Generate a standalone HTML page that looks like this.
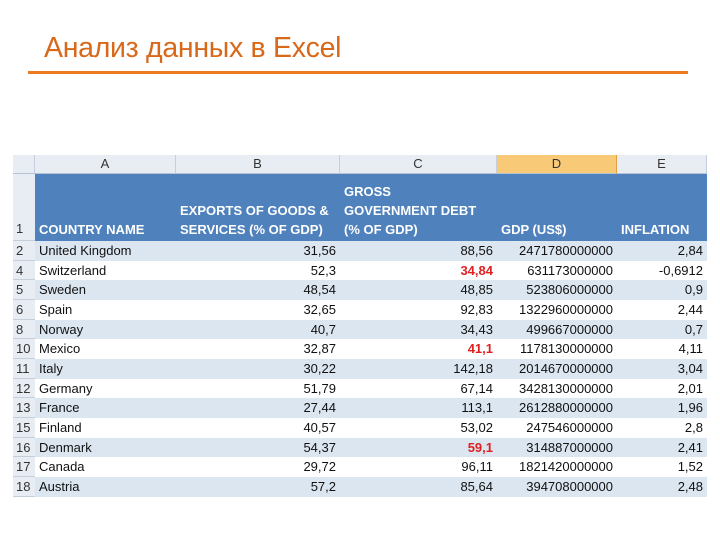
<!DOCTYPE html>
<html><head><meta charset="utf-8">
<style>
body{margin:0;width:720px;height:540px;background:#fff;position:relative;overflow:hidden;font-family:"Liberation Sans","DejaVu Sans",sans-serif}
#title{position:absolute;left:44px;top:32px;font-size:28.5px;color:#d8681a;letter-spacing:-0.3px;white-space:nowrap}
#rule{position:absolute;left:28px;top:71px;width:660px;height:3px;background:#ee7a22}
#sheet{position:absolute;left:0;top:0}
.c{position:absolute;box-sizing:border-box;font-size:13px;color:#111;white-space:nowrap;overflow:hidden}
.colh{background:#e8edf4;border-right:1px solid #c5cfdc;border-bottom:1px solid #b6c3d4;text-align:center;font-size:13px;color:#333;line-height:18px}
.rowh{background:#e8edf4;border-bottom:1px solid #c5cfdc;color:#333;font-size:13px;padding-left:3px}
.hd{background:#4f81bd;color:#fff;font-weight:bold;font-size:13px;line-height:19px;padding:0 4px}
</style></head><body>
<div id="title">Анализ данных в Excel</div>
<div id="rule"></div>
<div id="sheet"></div>
<script>
const rowNums=["2","4","5","6","8","10","11","12","13","15","16","17","18"];
const countries=["United Kingdom","Switzerland","Sweden","Spain","Norway","Mexico","Italy","Germany","France","Finland","Denmark","Canada","Austria"];
const exportsPct=["31,56","52,3","48,54","32,65","40,7","32,87","30,22","51,79","27,44","40,57","54,37","29,72","57,2"];
const debtPct=["88,56","34,84","48,85","92,83","34,43","41,1","142,18","67,14","113,1","53,02","59,1","96,11","85,64"];
const debtRed=[false,true,false,false,false,true,false,false,false,false,true,false,false];
const gdp=["2471780000000","631173000000","523806000000","1322960000000","499667000000","1178130000000","2014670000000","3428130000000","2612880000000","247546000000","314887000000","1821420000000","394708000000"];
const inflation=["2,84","-0,6912","0,9","2,44","0,7","4,11","3,04","2,01","1,96","2,8","2,41","1,52","2,48"];
const colLetters=["A","B","C","D","E"];
const colX=[35,176,340,497,617,707];
const sheet=document.getElementById('sheet');
function cell(x,y,w,h,cls,txt,style){const d=document.createElement('div');d.className='c '+cls;d.style.left=x+'px';d.style.top=y+'px';d.style.width=w+'px';d.style.height=h+'px';if(style)d.style.cssText+=style;d.textContent=txt;sheet.appendChild(d);return d;}
let e=cell(13,155,22,19,'colh','');


for(let i=0;i<5;i++){
 const sty=i===3?'background:#f8c977;border-right:1px solid #e0a040;':'';
 e=cell(colX[i],155,colX[i+1]-colX[i],19,'colh',colLetters[i],sty);
 
 
}
e=cell(13,174,22,67,'rowh','1','line-height:110px');


const heads=[["COUNTRY NAME"],["EXPORTS OF GOODS &","SERVICES (% OF GDP)"],["GROSS","GOVERNMENT DEBT","(% OF GDP)"],["GDP (US$)"],["INFLATION"]];
for(let i=0;i<5;i++){
 e=cell(colX[i],174,colX[i+1]-colX[i],67,'hd','');
 
 
 const inner=document.createElement('div');inner.style.position='absolute';inner.style.bottom='2px';inner.style.left='4px';
 inner.innerHTML=heads[i].join('<br>');e.appendChild(inner);
}
const rh=19.67,y0=241;
for(let r=0;r<countries.length;r++){
 const y=Math.round(y0+r*rh),h=Math.round(y0+(r+1)*rh)-y;
 const bg=r%2===0?'#dce6f1':'#ffffff';
 e=cell(13,y,22,h,'rowh',rowNums[r],'line-height:'+h+'px');
 
 
 const vals=[countries[r],exportsPct[r],debtPct[r],gdp[r],inflation[r]];
 for(let i=0;i<5;i++){
  let sty='background:'+bg+';line-height:'+h+'px;padding:0 4px;text-align:'+(i===0?'left':'right')+';';
  if(i===2&&debtRed[r])sty+='color:#e02020;font-weight:bold;';
  e=cell(colX[i],y,colX[i+1]-colX[i],h,'',vals[i],sty);
  
  
 }
}
</script>
</body></html>
